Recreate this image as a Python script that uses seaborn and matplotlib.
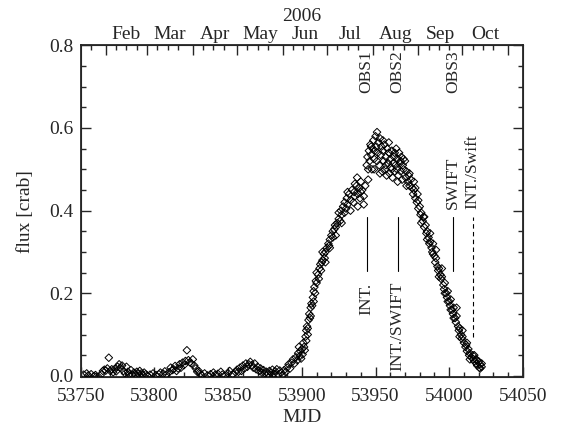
import numpy as np
import pandas as pd
import matplotlib
matplotlib.use('Agg')
import matplotlib.pyplot as plt
import matplotlib.transforms as mtransforms
import seaborn as sns

# light curve (MJD, flux in crab)
mjd = [53752, 53754, 53755, 53757, 53759, 53760, 53762, 53764, 53765, 53766,
       53767, 53768, 53769, 53770, 53771, 53772, 53773, 53774, 53775, 53776,
       53777, 53778, 53779, 53780, 53781, 53782, 53783, 53784, 53785, 53786,
       53787, 53788, 53789, 53790, 53791, 53792, 53793, 53794, 53795, 53797,
       53799, 53801, 53803, 53804, 53806, 53807, 53808, 53810, 53811, 53812,
       53813, 53814, 53815, 53816, 53817, 53818, 53819, 53820, 53821, 53822,
       53823, 53824, 53825, 53826, 53827, 53828, 53829, 53830, 53831, 53832,
       53834, 53836, 53838, 53840, 53841, 53843, 53845, 53846, 53848, 53850,
       53851, 53853, 53855, 53856, 53857, 53858, 53859, 53860, 53861, 53862,
       53863, 53864, 53865, 53866, 53867, 53868, 53869, 53870, 53871, 53872,
       53873, 53874, 53875, 53876, 53877, 53878, 53879, 53880, 53881, 53882,
       53883, 53884, 53885, 53886, 53887, 53888, 53889, 53890, 53891, 53892,
       53893, 53894, 53895, 53896, 53897, 53897.5, 53898, 53898.5, 53899, 53899.5,
       53900, 53900.5, 53901, 53901.5, 53902, 53902.5, 53903, 53903.5, 53904, 53904.5,
       53905, 53905.5, 53906, 53906.5, 53907, 53907.5, 53908, 53908.5, 53909, 53909.5,
       53910, 53911, 53911.5, 53912, 53912.5, 53913, 53913.5, 53914, 53915, 53915.5,
       53916, 53917, 53918, 53918.5, 53919, 53920, 53921, 53922, 53922.5, 53923,
       53924, 53925, 53926, 53926.5, 53927, 53928, 53929, 53930, 53930.5, 53931,
       53932, 53933, 53934, 53935, 53935.5, 53936, 53937, 53937.5, 53938, 53939,
       53939.5, 53940, 53941, 53942, 53943,
       53944, 53944.5, 53945, 53945.5, 53946, 53946.5, 53947, 53947.5, 53948, 53948.5,
       53949, 53949.5, 53950, 53950.5, 53951, 53951.5, 53952, 53952.5, 53953, 53953.5,
       53954, 53954.5, 53955, 53955.5, 53956, 53956.5, 53957, 53957.5, 53958, 53958.5,
       53959, 53959.5, 53960, 53960.5, 53961, 53961.5, 53962, 53962.5, 53963, 53963.5,
       53964, 53964.5, 53965, 53965.5, 53966, 53966.5, 53967, 53967.5, 53968, 53968.5,
       53969, 53970, 53970.5, 53971, 53972, 53972.5, 53973, 53974, 53975, 53975.5,
       53976, 53977, 53978, 53978.5, 53979, 53980, 53980.5, 53981, 53982, 53982.5,
       53983, 53984, 53984.5, 53985, 53986, 53986.5, 53987, 53988, 53988.5, 53989,
       53990, 53990.5, 53991, 53992, 53992.5, 53993, 53994, 53994.5, 53995, 53996,
       53996.5, 53997, 53998, 53998.5, 53999, 54000, 54000.5, 54001, 54002, 54002.5,
       54003, 54004, 54004.5, 54005, 54006, 54006.5, 54007, 54008, 54008.5, 54009,
       54010, 54011, 54011.5, 54012, 54013, 54013.5, 54014, 54015, 54016, 54016.5,
       54017, 54018, 54018.5, 54019, 54020, 54020.5, 54021, 54022,
       # second pass of scattered points in the outburst
       53903, 53904, 53906, 53908, 53910, 53914, 53916, 53919, 53921, 53923,
       53925, 53927, 53929, 53931, 53933, 53936, 53938, 53940, 53942,
       53945, 53947, 53949, 53951, 53953, 53955, 53957, 53959, 53961, 53963,
       53965, 53967, 53969, 53971, 53973, 53976, 53977, 53979, 53981, 53983,
       53985, 53987, 53989, 53991, 53993, 53995, 53997, 53999, 54001, 54003,
       54005, 54007, 54009, 54012, 54014, 54017, 54019, 54021, 54022]

flux = [0.003, 0.006, 0.001, 0.004, 0.000, 0.002, -0.002, 0.004, 0.012, 0.015,
        0.013, 0.018, 0.044, 0.012, 0.016, 0.009, 0.017, 0.011, 0.022, 0.028,
        0.019, 0.025, 0.012, 0.006, 0.022, 0.010, 0.004, 0.014, 0.003, 0.008,
        0.002, 0.010, 0.005, 0.012, 0.006, 0.002, 0.008, 0.004, 0.001, 0.003,
        0.006, 0.002, 0.004, 0.008, 0.005, 0.011, 0.003, 0.009, 0.020, 0.014,
        0.016, 0.024, 0.012, 0.018, 0.028, 0.020, 0.032, 0.026, 0.036, 0.062,
        0.038, 0.033, 0.030, 0.040, 0.025, 0.018, 0.010, 0.012, 0.005, 0.002,
        0.006, 0.001, 0.004, 0.008, 0.002, 0.005, 0.010, 0.003, 0.000, 0.006,
        0.012, 0.004, 0.009, 0.015, 0.010, 0.020, 0.012, 0.025, 0.018, 0.030,
        0.022, 0.028, 0.034, 0.026, 0.020, 0.030, 0.016, 0.022, 0.012, 0.018,
        0.008, 0.014, 0.006, 0.010, 0.004, 0.012, 0.007, 0.015, 0.005, 0.011,
        0.016, 0.003, 0.013, 0.008, 0.002, 0.014, 0.009, 0.020, 0.028, 0.018,
        0.032, 0.040, 0.030, 0.045, 0.038, 0.055, 0.070, 0.048, 0.060, 0.042,
        0.065, 0.052, 0.080, 0.070, 0.062, 0.095, 0.110, 0.120, 0.115, 0.135,
        0.150, 0.140, 0.165, 0.175, 0.170, 0.190, 0.205, 0.215, 0.200, 0.230,
        0.225, 0.245, 0.235, 0.260, 0.270, 0.255, 0.275, 0.280, 0.295, 0.285,
        0.300, 0.310, 0.320, 0.315, 0.330, 0.340, 0.335, 0.355, 0.365, 0.360,
        0.370, 0.380, 0.375, 0.400, 0.390, 0.410, 0.420, 0.405, 0.430, 0.415,
        0.440, 0.425, 0.450, 0.420, 0.445, 0.435, 0.460, 0.480, 0.440, 0.455,
        0.430, 0.470, 0.450, 0.435, 0.460,
        0.510, 0.530, 0.500, 0.545, 0.520, 0.560, 0.535, 0.500, 0.550, 0.570,
        0.525, 0.545, 0.580, 0.555, 0.590, 0.540, 0.565, 0.510, 0.575, 0.535,
        0.555, 0.495, 0.545, 0.520, 0.560, 0.500, 0.530, 0.485, 0.550, 0.515,
        0.540, 0.490, 0.525, 0.505, 0.545, 0.480, 0.515, 0.530, 0.495, 0.510,
        0.550, 0.500, 0.525, 0.485, 0.540, 0.515, 0.495, 0.530, 0.475, 0.510,
        0.500, 0.520, 0.480, 0.495, 0.470, 0.485, 0.460, 0.475, 0.455, 0.440,
        0.450, 0.430, 0.420, 0.440, 0.405, 0.410, 0.390, 0.395, 0.375, 0.385,
        0.360, 0.365, 0.345, 0.350, 0.335, 0.320, 0.325, 0.310, 0.300, 0.320,
        0.290, 0.275, 0.285, 0.265, 0.255, 0.260, 0.245, 0.235, 0.240, 0.220,
        0.210, 0.225, 0.200, 0.190, 0.205, 0.180, 0.170, 0.185, 0.160, 0.150,
        0.165, 0.140, 0.130, 0.145, 0.120, 0.110, 0.115, 0.100, 0.090, 0.095,
        0.080, 0.070, 0.075, 0.060, 0.065, 0.050, 0.055, 0.045, 0.050, 0.040,
        0.035, 0.040, 0.030, 0.025, 0.035, 0.020, 0.028, 0.022,
        0.085, 0.100, 0.145, 0.180, 0.250, 0.300, 0.275, 0.310, 0.350, 0.340,
        0.395, 0.370, 0.395, 0.445, 0.400, 0.465, 0.410, 0.445, 0.415,
        0.475, 0.555, 0.500, 0.520, 0.490, 0.570, 0.510, 0.565, 0.500, 0.540,
        0.470, 0.520, 0.525, 0.460, 0.490, 0.470, 0.455, 0.425, 0.370, 0.385,
        0.330, 0.345, 0.295, 0.305, 0.240, 0.260, 0.200, 0.180, 0.160, 0.140,
        0.165, 0.095, 0.110, 0.080, 0.040, 0.050, 0.038, 0.018, 0.030]

# observation markers
obs_names = ['OBS1', 'OBS2', 'OBS3']
obs_mjd = [53944, 53965, 54002.5]
inst_names = ['INT.', 'INT./SWIFT', 'SWIFT', 'INT./Swift']
inst_mjd = [53944, 53965, 54002.5, 54016]

# top axis: months of 2006 (first day in MJD)
month_names = ['Feb', 'Mar', 'Apr', 'May', 'Jun', 'Jul', 'Aug', 'Sep', 'Oct']
month_start = [53767, 53795, 53826, 53856, 53887, 53917, 53948, 53979, 54009, 54040]

df = pd.DataFrame({'MJD': mjd, 'flux': flux})

sns.set_style('ticks')
plt.rcParams['font.family'] = ['Liberation Serif', 'DejaVu Serif']
plt.rcParams['font.size'] = 14

fig = plt.figure(figsize=(5.69, 4.32), dpi=100)
ax = fig.add_axes([0.142, 0.127, 0.777, 0.768])

sns.scatterplot(data=df, x='MJD', y='flux', ax=ax, marker='D', s=15,
                fc='none', ec='black', linewidth=0.7, zorder=3)

ax.set_xlim(53750, 54050)
ax.set_ylim(-0.003, 0.8)
ax.set_xticks(np.arange(53750, 54051, 50))
ax.set_xticks(np.arange(53750, 54051, 10), minor=True)
ax.set_yticks([0.0, 0.2, 0.4, 0.6, 0.8])
ax.set_yticklabels(['0.0', '0.2', '0.4', '0.6', '0.8'])
ax.set_yticks(np.arange(0, 0.801, 0.05), minor=True)
ax.tick_params(which='both', direction='in', top=False, right=True, width=1,
               labelsize=14)
ax.tick_params(which='major', length=7)
ax.tick_params(which='minor', length=3.5)
ax.tick_params(axis='x', pad=8)
ax.tick_params(axis='y', pad=5)
ax.set_xlabel('MJD', fontsize=14, labelpad=3)
ax.set_ylabel('flux [crab]', fontsize=14, labelpad=11)
for sp in ax.spines.values():
    sp.set_linewidth(1.3)

# top axis with months
ax2 = ax.twiny()
ax2.set_xlim(ax.get_xlim())
ax2.set_xticks(month_start)
ax2.set_xticklabels([''] * len(month_start))
weeks = [m + d for m in [53736] + month_start[:-1] for d in (7, 14, 21)]
ax2.set_xticks([w for w in weeks if 53750 < w < 54050], minor=True)
ax2.tick_params(which='both', direction='in', width=1)
ax2.tick_params(which='major', length=7)
ax2.tick_params(which='minor', length=3.5)
trans = mtransforms.blended_transform_factory(ax.transData, ax.transAxes)
for name, a, b in zip(month_names, month_start[:-1], month_start[1:]):
    ax.text((a + b) / 2, 1.008, name, transform=trans, ha='center', va='bottom', fontsize=14)
ax.text(0.5, 1.06, '2006', transform=ax.transAxes, ha='center', va='bottom', fontsize=14)

# observation annotations
for name, x in zip(obs_names, obs_mjd):
    ax.text(x, 0.685, name, rotation=90, ha='center', va='bottom', fontsize=12.5)
for x in inst_mjd[:3]:
    ax.plot([x, x], [0.253, 0.385], color='black', lw=0.8)
ax.plot([inst_mjd[3]] * 2, [0.095, 0.385], color='black', lw=0.8, ls=(0, (4, 3)))
ax.text(inst_mjd[0], 0.225, inst_names[0], rotation=90, ha='center', va='top', fontsize=12.5)
ax.text(inst_mjd[1], 0.228, inst_names[1], rotation=90, ha='center', va='top', fontsize=12.5)
ax.text(inst_mjd[2], 0.405, inst_names[2], rotation=90, ha='center', va='bottom', fontsize=12.5)
ax.text(inst_mjd[3], 0.405, inst_names[3], rotation=90, ha='center', va='bottom', fontsize=12.5)

fig.savefig('out.png', dpi=100)
